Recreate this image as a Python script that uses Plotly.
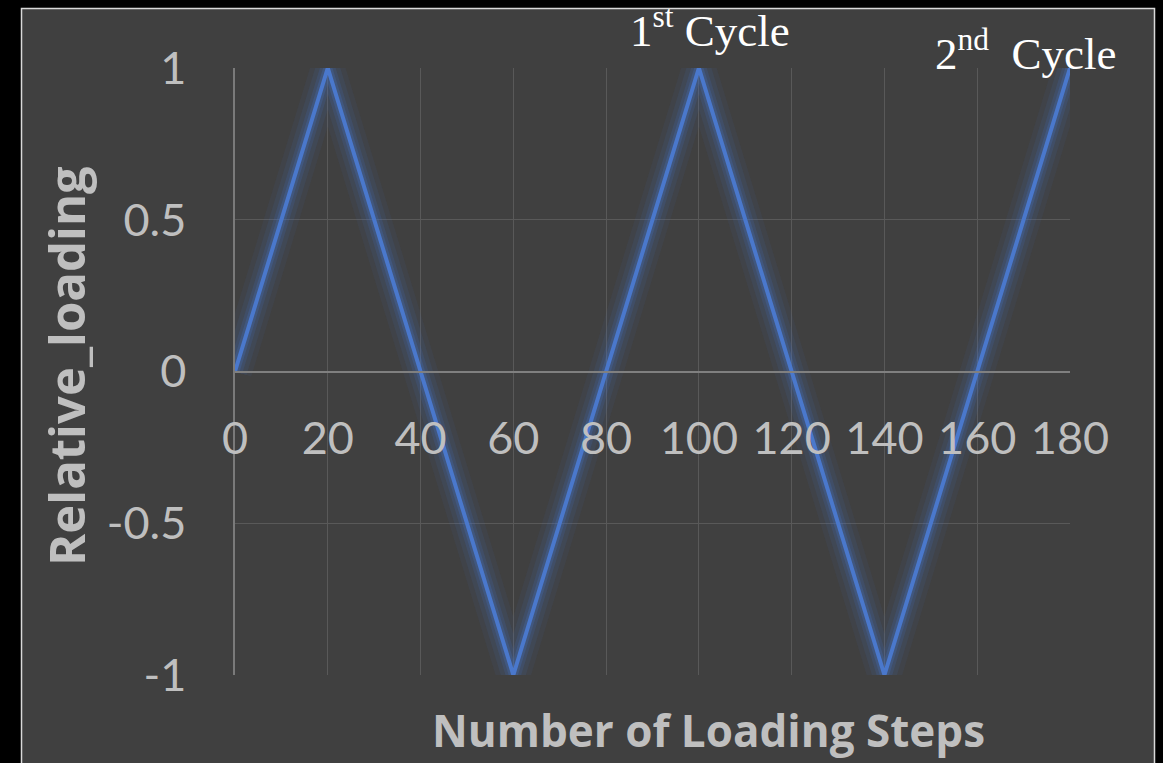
import plotly.graph_objects as go

# Data (vertices of the loading history)
steps = [0, 20, 60, 100, 140, 180]
relative_loading = [0, 1, -1, 1, -1, 1]

x_ticks = [0, 20, 40, 60, 80, 100, 120, 140, 160, 180]
y_ticks = [-1, -0.5, 0, 0.5, 1]
y_tick_text = ["-1", "-0.5", "0", "0.5", "1"]

cycle_labels = ["1<sup>st</sup> Cycle", "2<sup>nd</sup>  Cycle"]
cycle_label_x = [102.4, 170.3]
cycle_label_y = [1.066, 1.029]

fig = go.Figure()

# glow layers
for w, a in [(34, 0.07), (24, 0.10), (15, 0.16), (9, 0.25)]:
    fig.add_trace(go.Scatter(x=steps, y=relative_loading, mode="lines",
                             line=dict(color=f"rgba(68,114,196,{a})", width=w),
                             hoverinfo="skip", showlegend=False))
fig.add_trace(go.Scatter(x=steps, y=relative_loading, mode="lines",
                         line=dict(color="#4a78cc", width=4), showlegend=False))

W, H = 1163, 763
L, T = 235, 68
R = W - 1070
B = H - 675
pw, ph = W - L - R, H - T - B

def px_to_paper_x(px):
    return (px - L) / pw

def px_to_paper_y(py):
    return (H - B - py) / ph

fig.add_shape(type="rect", xref="paper", yref="paper", layer="below",
              x0=px_to_paper_x(21.5), x1=px_to_paper_x(1154.5),
              y0=px_to_paper_y(800), y1=px_to_paper_y(8.5),
              fillcolor="#404040", line=dict(color="#d9d9d9", width=1.5))

fig.update_layout(
    width=W, height=H,
    margin=dict(l=L, r=R, t=T, b=B),
    paper_bgcolor="black", plot_bgcolor="#404040",
    showlegend=False,
    xaxis=dict(range=[0, 180], tickvals=x_ticks, anchor="free", position=0.5,
               showgrid=True, gridcolor="#595959", gridwidth=1,
               showline=True, linecolor="#808080", linewidth=1.5,
               zeroline=False, ticks="", ticklabelstandoff=28,
               tickfont=dict(family="Lato", size=45, color="#bfbfbf")),
    yaxis=dict(range=[-1, 1], tickvals=y_ticks, ticktext=y_tick_text,
               showgrid=True, gridcolor="#595959", gridwidth=1,
               showline=True, linecolor="#7a7a7a", linewidth=1.5,
               zeroline=False, ticks="", ticklabelstandoff=38,
               tickfont=dict(family="Lato", size=45, color="#bfbfbf")),
)

fig.add_annotation(text="<b>Number of Loading Steps</b>", xref="paper", yref="paper",
                   x=px_to_paper_x(708), y=px_to_paper_y(730), showarrow=False,
                   xanchor="center", yanchor="middle",
                   font=dict(family="Open Sans", size=44, color="#bfbfbf"))
fig.add_annotation(text="<b>Relative_loading</b>", xref="paper", yref="paper",
                   x=px_to_paper_x(66), y=px_to_paper_y(366), showarrow=False,
                   textangle=-90, xanchor="center", yanchor="middle",
                   font=dict(family="Open Sans", size=49, color="#bfbfbf"))

for txt, xv, yv in zip(cycle_labels, cycle_label_x, cycle_label_y):
    fig.add_annotation(text=txt, xref="x", yref="paper", x=xv, y=yv,
                       showarrow=False, xanchor="center", yanchor="middle",
                       font=dict(family="Liberation Serif", size=45, color="white"))

fig.write_html("out.html",
               config={"displayModeBar": False},
               post_script="document.body.style.margin='0';document.body.style.background='black';")
